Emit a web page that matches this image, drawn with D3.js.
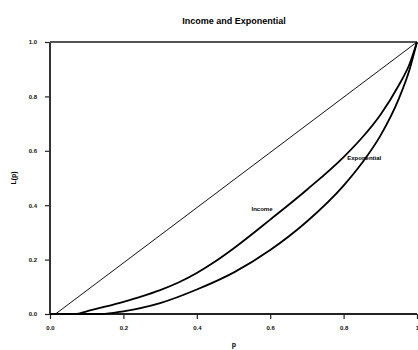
<!DOCTYPE html>
<html>
<head>
<meta charset="utf-8">
<script src="https://cdn.jsdelivr.net/npm/d3@7"></script>
<style>
  body { margin: 0; background: #fff; }
  svg { display: block; font-family: "Liberation Sans", Arial, sans-serif; }
</style>
</head>
<body>
<div id="chart"></div>
<script>
// shares of population (p) and of income (L)
const incomeP = [0, 0.07, 0.1, 0.15, 0.2, 0.25, 0.3, 0.35, 0.4, 0.45, 0.5, 0.6, 0.7, 0.8, 0.85, 0.9, 0.95, 0.98, 1];
const incomeL = [0, 0, 0.01, 0.027, 0.045, 0.065, 0.088, 0.116, 0.151, 0.193, 0.241, 0.347, 0.457, 0.577, 0.648, 0.732, 0.84, 0.92, 1];
const expoP = [0, 0.14, 0.2, 0.3, 0.4, 0.5, 0.6, 0.7, 0.8, 0.85, 0.9, 0.95, 0.98, 1];
const expoL = [0, 0, 0.01, 0.04, 0.09, 0.152, 0.235, 0.34, 0.472, 0.555, 0.655, 0.79, 0.9, 1];
const xTicks = [0, 0.2, 0.4, 0.6, 0.8, 1];
const yTicks = [0, 0.2, 0.4, 0.6, 0.8, 1];
const seriesLabels = ['Income', 'Exponential'];

const width = 418, height = 350;
const margin = { top: 42, right: 1, bottom: 36, left: 50 };
const w = width - margin.left - margin.right;
const h = height - margin.top - margin.bottom;

const svg = d3.select('#chart').append('svg')
  .attr('width', width)
  .attr('height', height);

svg.append('text')
  .attr('x', 234)
  .attr('y', 24)
  .attr('text-anchor', 'middle')
  .attr('font-size', 9)
  .attr('font-weight', 'bold')
  .text('Income and Exponential');

const g = svg.append('g').attr('transform', `translate(${margin.left},${margin.top})`);

const x = d3.scaleLinear().domain([0, 1]).range([0, w]);
const y = d3.scaleLinear().domain([0, 1]).range([h, 0]);

// axes
const xAxis = g.append('g')
  .attr('transform', `translate(0,${h})`)
  .call(d3.axisBottom(x).tickValues(xTicks).tickSize(5).tickPadding(7)
    .tickFormat(v => v === 1 ? '1' : d3.format('.1f')(v)));
const yAxis = g.append('g')
  .call(d3.axisLeft(y).tickValues(yTicks).tickSize(5).tickPadding(8)
    .tickFormat(d3.format('.1f')));

[xAxis, yAxis].forEach(a => {
  a.select('.domain').remove();
  a.selectAll('.tick line').attr('stroke', '#222').attr('stroke-width', 1.2);
  a.selectAll('.tick text')
    .attr('fill', '#111')
    .attr('font-size', 6)
    .attr('font-weight', 'bold')
    .attr('font-family', '"Liberation Sans", Arial, sans-serif');
});

// frame: left, bottom, top
g.append('line').attr('x1', 0).attr('x2', 0).attr('y1', 0).attr('y2', h)
  .attr('stroke', '#333').attr('stroke-width', 2);
g.append('line').attr('x1', 0).attr('x2', w).attr('y1', h).attr('y2', h)
  .attr('stroke', '#222').attr('stroke-width', 2);
g.append('line').attr('x1', 0).attr('x2', w).attr('y1', 0).attr('y2', 0)
  .attr('stroke', '#555').attr('stroke-width', 2);

// equality line
g.append('line')
  .attr('x1', x(0.015)).attr('y1', y(0))
  .attr('x2', x(1)).attr('y2', y(1))
  .attr('stroke', '#111').attr('stroke-width', 1);

const line = d3.line()
  .x(d => x(d[0]))
  .y(d => y(d[1]))
  .curve(d3.curveMonotoneX);

const incomeData = incomeP.map((p, i) => [p, incomeL[i]]);
const expoData = expoP.map((p, i) => [p, expoL[i]]);

[incomeData, expoData].forEach(d => {
  g.append('path')
    .datum(d)
    .attr('fill', 'none')
    .attr('stroke', '#000')
    .attr('stroke-width', 1.8)
    .attr('d', line);
});

// curve labels
g.append('text')
  .attr('x', x(0.549)).attr('y', y(0.378))
  .attr('font-size', 6).attr('font-weight', 'bold')
  .text(seriesLabels[0]);
g.append('text')
  .attr('x', x(0.81)).attr('y', y(0.565))
  .attr('font-size', 6).attr('font-weight', 'bold')
  .text(seriesLabels[1]);

// axis titles
svg.append('text')
  .attr('x', 234).attr('y', 347)
  .attr('text-anchor', 'middle')
  .attr('font-size', 7).attr('font-weight', 'bold')
  .text('p');
svg.append('text')
  .attr('transform', 'translate(16,178) rotate(-90)')
  .attr('text-anchor', 'middle')
  .attr('font-size', 7).attr('font-weight', 'bold')
  .text('L(p)');
</script>
</body>
</html>
